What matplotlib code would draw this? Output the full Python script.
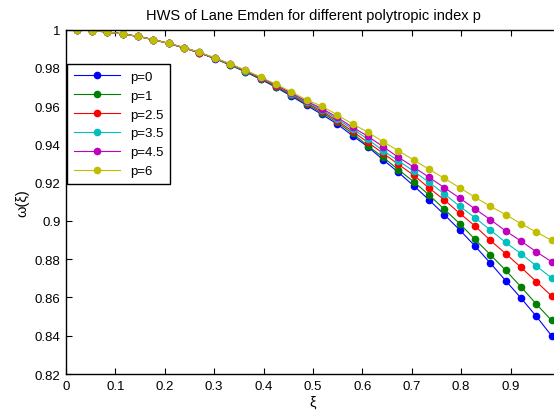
import matplotlib
matplotlib.use("Agg")
import matplotlib.pyplot as plt

plt.rcParams["font.family"] = ["Liberation Sans", "DejaVu Sans"]

xi = [0.022, 0.053, 0.084, 0.115, 0.146, 0.177, 0.208, 0.239, 0.270, 0.301, 0.332,
      0.363, 0.394, 0.425, 0.456, 0.487, 0.518, 0.549, 0.580, 0.611, 0.642, 0.673,
      0.704, 0.735, 0.766, 0.797, 0.828, 0.859, 0.890, 0.921, 0.952, 0.983]

w_p0 = [0.9999, 0.9995, 0.9988, 0.9978, 0.9965, 0.9948, 0.9928, 0.9905, 0.9879, 0.9849, 0.9816,
        0.9780, 0.9741, 0.9699, 0.9653, 0.9605, 0.9557, 0.9507, 0.9446, 0.9388, 0.9320, 0.9254,
        0.9184, 0.9110, 0.9033, 0.8953, 0.8869, 0.8780, 0.8688, 0.8597, 0.8502, 0.8400]
w_p1 = [0.9999, 0.9995, 0.9988, 0.9978, 0.9965, 0.9948, 0.9928, 0.9905, 0.9879, 0.9850, 0.9817,
        0.9781, 0.9743, 0.9702, 0.9657, 0.9610, 0.9566, 0.9516, 0.9458, 0.9393, 0.9333, 0.9268,
        0.9205, 0.9136, 0.9061, 0.8986, 0.8904, 0.8824, 0.8742, 0.8656, 0.8566, 0.8480]
w_p25 = [0.9999, 0.9995, 0.9988, 0.9978, 0.9965, 0.9948, 0.9928, 0.9906, 0.9880, 0.9851, 0.9819,
         0.9784, 0.9746, 0.9706, 0.9662, 0.9617, 0.9574, 0.9524, 0.9469, 0.9411, 0.9354, 0.9296,
         0.9239, 0.9172, 0.9110, 0.9040, 0.8974, 0.8899, 0.8829, 0.8758, 0.8683, 0.8608]
w_p35 = [0.9999, 0.9995, 0.9988, 0.9978, 0.9965, 0.9948, 0.9929, 0.9906, 0.9881, 0.9851, 0.9820,
         0.9785, 0.9748, 0.9709, 0.9666, 0.9621, 0.9582, 0.9533, 0.9481, 0.9428, 0.9367, 0.9315,
         0.9260, 0.9202, 0.9141, 0.9077, 0.9017, 0.8953, 0.8888, 0.8829, 0.8765, 0.8702]
w_p45 = [0.9999, 0.9995, 0.9988, 0.9978, 0.9965, 0.9948, 0.9929, 0.9906, 0.9881, 0.9852, 0.9821,
         0.9787, 0.9750, 0.9711, 0.9669, 0.9626, 0.9588, 0.9542, 0.9490, 0.9443, 0.9388, 0.9333,
         0.9282, 0.9228, 0.9174, 0.9120, 0.9063, 0.9007, 0.8948, 0.8895, 0.8839, 0.8787]
w_p6 = [0.9999, 0.9995, 0.9988, 0.9978, 0.9965, 0.9948, 0.9929, 0.9907, 0.9882, 0.9853, 0.9822,
        0.9789, 0.9753, 0.9715, 0.9675, 0.9633, 0.9600, 0.9555, 0.9507, 0.9465, 0.9414, 0.9367,
        0.9319, 0.9270, 0.9223, 0.9174, 0.9124, 0.9077, 0.9033, 0.8986, 0.8942, 0.8899]

series = [w_p0, w_p1, w_p25, w_p35, w_p45, w_p6]
labels = ["p=0", "p=1", "p=2.5", "p=3.5", "p=4.5", "p=6"]
colors = ["#0000ff", "#008000", "#ff0000", "#00bfbf", "#bf00bf", "#bfbf00"]

xticks = [0, 0.1, 0.2, 0.3, 0.4, 0.5, 0.6, 0.7, 0.8, 0.9, 1.0]
# the "1" label sits off the right edge in the original, so leave it blank
xtick_labels = ["0", "0.1", "0.2", "0.3", "0.4", "0.5", "0.6", "0.7", "0.8", "0.9", ""]
yticks = [0.82, 0.84, 0.86, 0.88, 0.9, 0.92, 0.94, 0.96, 0.98, 1.0]
ytick_labels = ["0.82", "0.84", "0.86", "0.88", "0.9", "0.92", "0.94", "0.96", "0.98", "1"]

fig = plt.figure(figsize=(5.54, 4.14), dpi=100)
ax = fig.add_axes([0.1191, 0.0942, 0.8917, 0.8316])

for ys, lbl, c in zip(series, labels, colors):
    ax.plot(xi, ys, "-o", color=c, lw=0.8, ms=4.5, label=lbl)

ax.set_xlim(0, 1)
ax.set_ylim(0.82, 1)
ax.set_xticks(xticks)
ax.set_xticklabels(xtick_labels)
ax.set_yticks(yticks)
ax.set_yticklabels(ytick_labels)
ax.tick_params(direction="in", length=4, width=0.8, top=True, right=True, labelsize=9.5, pad=4)
for s in ax.spines.values():
    s.set_linewidth(1.0)

ax.set_title("HWS of Lane Emden for different polytropic index p", fontsize=10.5, pad=8)
ax.set_xlabel("ξ", fontsize=10.5, labelpad=2)
ax.set_ylabel("ω(ξ)", fontsize=10.5, labelpad=4)

leg = ax.legend(loc="upper left", bbox_to_anchor=(0.002, 0.90), borderaxespad=0,
                fancybox=False, framealpha=1, edgecolor="black", fontsize=9.5,
                handlelength=3.5, labelspacing=0.5, borderpad=0.5)
leg.get_frame().set_linewidth(1.0)

plt.savefig("out.png", dpi=100)
plt.close()
